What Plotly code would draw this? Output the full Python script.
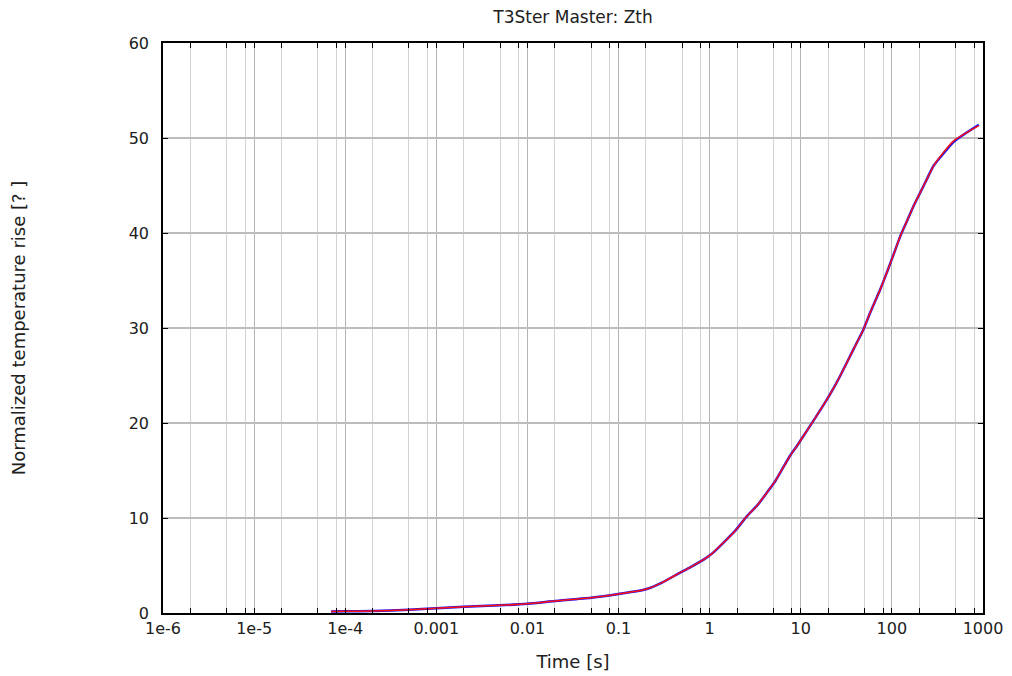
import plotly.graph_objects as go

# Data
time_s = [7e-5, 1e-4, 2e-4, 5e-4, 1e-3, 2e-3, 5e-3, 1e-2, 2e-2, 5e-2, 0.1, 0.2, 0.3, 0.48,
          0.61, 0.9, 1.06, 1.43, 1.91, 2.57, 3.31, 4.27, 5.26, 5.97, 7.69, 9.1, 11.7, 13.9,
          17.8, 23.0, 27.2, 38.1, 49, 58, 74.8, 88.5, 105, 124, 147, 174, 206, 243, 288,
          370, 477, 669, 900]
measured = [0.17, 0.18, 0.2, 0.35, 0.49, 0.66, 0.81, 0.98, 1.26, 1.6, 2.0, 2.5, 3.2, 4.28,
            4.8, 5.75, 6.25, 7.44, 8.67, 10.2, 11.3, 12.7, 13.9, 14.8, 16.6, 17.6, 19.2, 20.3,
            21.9, 23.7, 25.0, 27.8, 29.9, 31.65, 34.1, 35.9, 37.8, 39.7, 41.3, 42.9, 44.3,
            45.7, 47.1, 48.4, 49.6, 50.6, 51.4]
fitted = [0.17, 0.18, 0.2, 0.35, 0.49, 0.66, 0.81, 0.98, 1.26, 1.6, 2.0, 2.5, 3.2, 4.28,
          4.8, 5.75, 6.25, 7.44, 8.67, 10.2, 11.3, 12.7, 13.9, 14.8, 16.6, 17.6, 19.2, 20.3,
          21.9, 23.7, 25.0, 27.8, 29.9, 31.65, 34.1, 35.9, 37.8, 39.7, 41.3, 42.9, 44.3,
          45.7, 47.1, 48.5, 49.7, 50.6, 51.3]

x_tickvals = [1e-6, 1e-5, 1e-4, 1e-3, 1e-2, 1e-1, 1, 10, 100, 1000]
x_ticktext = ["1e-6", "1e-5", "1e-4", "0.001", "0.01", "0.1", "1", "10", "100", "1000"]
x_minorvals = [m * 10.0 ** e for e in range(-6, 3) for m in (2, 5, 8)]
y_tickvals = [0, 10, 20, 30, 40, 50, 60]

fig = go.Figure()
fig.add_trace(go.Scatter(x=time_s, y=measured, mode="lines",
                         line=dict(color="#1010ff", width=2.5, shape="spline", smoothing=0.6),
                         name="measured"))
fig.add_trace(go.Scatter(x=time_s, y=fitted, mode="lines",
                         line=dict(color="#ff1010", width=1.5, shape="spline", smoothing=0.6),
                         name="fit"))

font = "DejaVu Sans, Verdana, sans-serif"
fig.update_layout(
    width=1004, height=668,
    margin=dict(l=155, r=29, t=35, b=63),
    paper_bgcolor="white", plot_bgcolor="white",
    showlegend=False,
    title=dict(text="T3Ster Master: Zth", x=(155 + 410) / 1004, xanchor="center",
               y=1 - 9 / 668, yanchor="middle",
               font=dict(family=font, size=17, color="#202020")),
    font=dict(family=font, color="#202020"),
)
fig.update_xaxes(
    type="log", range=[-6, 3], automargin=False,
    tickmode="array", tickvals=x_tickvals, ticktext=x_ticktext,
    tickfont=dict(size=16), ticks="inside", ticklen=5, tickcolor="black",
    showline=True, linecolor="black", linewidth=1.5, mirror="ticks",
    showgrid=True, gridcolor="#b4b4b4", gridwidth=1,
    minor=dict(tickmode="array", tickvals=x_minorvals, showgrid=True, gridcolor="#d2d2d2",
               gridwidth=1, ticks="inside", ticklen=5, tickcolor="black"),
    title=dict(text="Time [s]", font=dict(size=18), standoff=18),
    zeroline=False,
)
fig.update_yaxes(
    range=[0, 60], automargin=False, tickmode="array", tickvals=y_tickvals,
    tickfont=dict(size=16), ticks="inside", ticklen=5, tickcolor="black",
    ticklabelstandoff=9,
    showline=True, linecolor="black", linewidth=1.5, mirror="ticks",
    showgrid=True, gridcolor="#bcbcbc", gridwidth=1.5,
    title=dict(text="Normalized temperature rise [? ]", font=dict(size=18), standoff=104),
    zeroline=False,
)
fig.write_html("out.html")
